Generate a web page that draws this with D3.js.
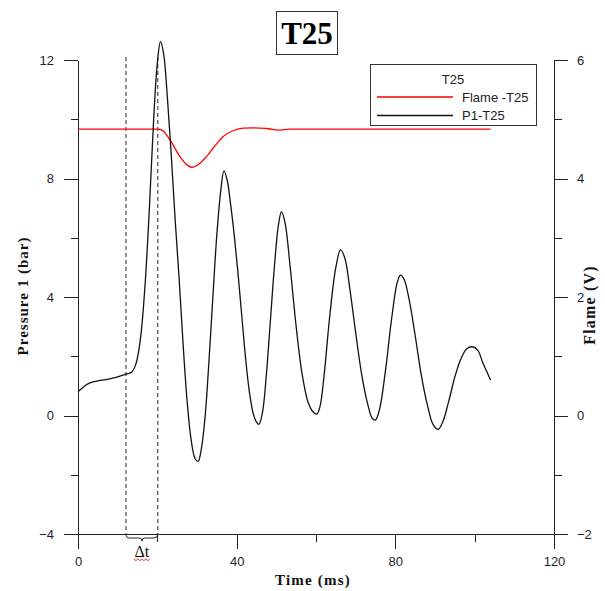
<!DOCTYPE html>
<html>
<head>
<meta charset="utf-8">
<script src="https://cdn.jsdelivr.net/npm/d3@7"></script>
<style>
  html, body { margin: 0; padding: 0; background: #fff; }
  svg { display: block; }
</style>
</head>
<body>
<svg id="chart" width="605" height="591"></svg>
<script>
// Pressure trace P1-T25 (bar) against time (ms)
const pTime = [0, 1, 2, 3, 5, 7, 9, 11, 12.5, 13.5, 14.5, 15.2, 16, 17, 18, 19, 20, 20.8, 21.6, 22.5,
  23.5, 24.5, 25.5, 26.5, 27.5, 28.5, 29.5, 30.3, 31, 32, 33, 34, 35, 36, 36.8, 37.6, 38.5, 39.3, 40.2, 41.2, 42.2,
  43.2, 44.2, 45, 45.6, 46.5, 47.5, 48.5, 49.5, 50.5, 51.3, 52.2, 53.5, 55, 56.5, 58, 59.3, 60.2, 61, 62, 63.5,
  65, 66.2, 67.3, 68.5, 70, 71.5, 73, 74.2, 75, 76, 77.5, 79, 80.5, 81.3, 82.2, 83.5, 85, 86.5, 88, 89.5,
  90.8, 92, 93.5, 95, 96.5, 98, 99.4, 100.8, 102, 103, 104];
const pressure = [0.80, 0.92, 1.03, 1.10, 1.17, 1.21, 1.27, 1.35, 1.41, 1.46, 1.70, 2.10, 2.90, 4.60, 7.00, 9.80, 11.9, 12.62, 12.2, 10.8,
  8.8, 6.6, 4.6, 2.4, 0.5, -0.8, -1.45, -1.55, -1.2, -0.1, 1.8, 4.0, 6.1, 7.6, 8.26, 7.95, 7.1, 6.2, 5.0, 3.5, 2.0,
  0.8, 0.05, -0.22, -0.3, 0.1, 1.4, 3.2, 5.0, 6.4, 6.88, 6.5, 5.0, 3.0, 1.4, 0.45, 0.12, 0.05, 0.3, 1.3, 3.4,
  5.0, 5.59, 5.3, 4.3, 2.8, 1.4, 0.4, -0.1, -0.15, 0.2, 1.5, 3.2, 4.5, 4.74, 4.6, 3.9, 2.7, 1.4, 0.4, -0.3,
  -0.47, -0.2, 0.5, 1.3, 1.9, 2.25, 2.32, 2.2, 1.8, 1.5, 1.2];

// Flame signal Flame -T25 (V) against time (ms)
const fTime = [0, 10, 20.2, 21.5, 23.2, 25.7, 27.5, 28.7, 30, 32.4, 34.5, 36.6, 39.2, 41.7, 44, 45.9, 48, 50.5, 52, 53.4, 60, 80, 104];
const flame = [4.835, 4.835, 4.835, 4.80, 4.65, 4.37, 4.23, 4.19, 4.22, 4.37, 4.55, 4.71, 4.81, 4.85, 4.855, 4.85, 4.84, 4.815, 4.825, 4.835, 4.835, 4.835, 4.835];

// Markers bounding the delay Δt (ms)
const dtBounds = [12.1, 20.1];

// Axis ticks
const xMajor = [0, 40, 80, 120];
const xMinor = [20, 60, 100];
const pMajor = [-4, 0, 4, 8, 12];
const pMinor = [-2, 2, 6, 10];
const fMajor = [-2, 0, 2, 4, 6];
const fMinor = [-1, 1, 3, 5];

const chartTitle = "T25";
const legendTitle = "T25";
const seriesNames = ["Flame -T25", "P1-T25"];
const seriesColors = ["#ff0000", "#111111"];

const svg = d3.select("#chart");
const sans = "'Liberation Sans', Arial, sans-serif";
const serif = "'Liberation Serif', 'Times New Roman', serif";

const x = d3.scaleLinear().domain([0, 120]).range([78, 554]);
const yP = d3.scaleLinear().domain([-4, 12]).range([534, 60]);
const yF = d3.scaleLinear().domain([-2, 6]).range([534, 60]);

function styleAxis(g) {
  g.selectAll("path, line").attr("stroke", "#222").attr("stroke-width", 1).attr("shape-rendering", "crispEdges");
  g.selectAll("text").attr("font-family", sans).attr("font-size", 13).attr("fill", "#1e1e30");
}

// Minor ticks first
svg.append("g").attr("transform", `translate(0,${yP(-4)})`)
  .call(d3.axisBottom(x).tickValues(xMinor).tickSize(8).tickSizeOuter(0).tickFormat(""))
  .call(styleAxis).call(g => g.select(".domain").remove());
svg.append("g").attr("transform", `translate(${x(0)},0)`)
  .call(d3.axisLeft(yP).tickValues(pMinor).tickSize(7).tickSizeOuter(0).tickFormat(""))
  .call(styleAxis).call(g => g.select(".domain").remove());
svg.append("g").attr("transform", `translate(${x(120)},0)`)
  .call(d3.axisRight(yF).tickValues(fMinor).tickSize(8).tickSizeOuter(0).tickFormat(""))
  .call(styleAxis).call(g => g.select(".domain").remove());

// Major axes
svg.append("g").attr("transform", `translate(0,${yP(-4)})`)
  .call(d3.axisBottom(x).tickValues(xMajor).tickSize(15).tickSizeOuter(0).tickPadding(8).tickFormat(d3.format("d")))
  .call(styleAxis);
svg.append("g").attr("transform", `translate(${x(0)},0)`)
  .call(d3.axisLeft(yP).tickValues(pMajor).tickSize(14).tickSizeOuter(0).tickPadding(10).tickFormat(d3.format("d")))
  .call(styleAxis);
svg.append("g").attr("transform", `translate(${x(120)},0)`)
  .call(d3.axisRight(yF).tickValues(fMajor).tickSize(14).tickSizeOuter(0).tickPadding(9).tickFormat(d3.format("d")))
  .call(styleAxis);

// Dashed markers for Δt
svg.append("g").selectAll("line").data(dtBounds).join("line")
  .attr("x1", d => x(d)).attr("x2", d => x(d))
  .attr("y1", 57).attr("y2", yP(-4))
  .attr("stroke", "#666").attr("stroke-width", 1.4).attr("stroke-dasharray", "4,3");

// Curly brace under the interval
const bx0 = x(dtBounds[0]), bx1 = x(dtBounds[1]), bm = (bx0 + bx1) / 2, by = yP(-4);
svg.append("path")
  .attr("d", `M${bx0},${by} Q${bx0},${by + 4} ${bx0 + 4},${by + 4} L${bm - 3},${by + 4} Q${bm},${by + 4} ${bm},${by + 7} Q${bm},${by + 4} ${bm + 3},${by + 4} L${bx1 - 4},${by + 4} Q${bx1},${by + 4} ${bx1},${by}`)
  .attr("fill", "none").attr("stroke", "#222").attr("stroke-width", 1);
svg.append("text").attr("x", bm).attr("y", 557)
  .attr("text-anchor", "middle").attr("font-family", serif).attr("font-size", 16).attr("fill", "#111")
  .text("Δt");
// red wavy underline beneath Δt
const wave = d3.range(0, 9).map(i => [bm - 8 + i * 2, 559.5 + (i % 2 ? 1.2 : -0.6)]);
svg.append("path").attr("d", d3.line()(wave)).attr("fill", "none").attr("stroke", "#e02020").attr("stroke-width", 0.9);

// Series lines
const lineP = d3.line().x((d, i) => x(pTime[i])).y(d => yP(d)).curve(d3.curveCatmullRom.alpha(0.5));
const lineF = d3.line().x((d, i) => x(fTime[i])).y(d => yF(d)).curve(d3.curveMonotoneX);

svg.append("path").datum(flame).attr("d", lineF)
  .attr("fill", "none").attr("stroke", seriesColors[0]).attr("stroke-width", 1.3);
svg.append("path").datum(pressure).attr("d", lineP)
  .attr("fill", "none").attr("stroke", seriesColors[1]).attr("stroke-width", 1.3);

// Title box
const tg = svg.append("g");
tg.append("rect").attr("x", 276.5).attr("y", 11.5).attr("width", 61).attr("height", 43)
  .attr("fill", "#fff").attr("stroke", "#333").attr("stroke-width", 1);
tg.append("text").attr("x", 307).attr("y", 44).attr("text-anchor", "middle")
  .attr("font-family", serif).attr("font-weight", "bold").attr("font-size", 31).attr("fill", "#000")
  .text(chartTitle);

// Legend
const lg = svg.append("g");
lg.append("rect").attr("x", 370.5).attr("y", 64.5).attr("width", 166).attr("height", 61)
  .attr("fill", "#fff").attr("stroke", "#333").attr("stroke-width", 1);
lg.append("text").attr("x", 453).attr("y", 84).attr("text-anchor", "middle")
  .attr("font-family", sans).attr("font-size", 13).attr("fill", "#222").text(legendTitle);
seriesNames.forEach((name, i) => {
  const yy = 97 + i * 18.5;
  lg.append("line").attr("x1", 377).attr("x2", 453).attr("y1", yy).attr("y2", yy)
    .attr("stroke", seriesColors[i]).attr("stroke-width", 1.3);
  lg.append("text").attr("x", 462).attr("y", yy + 4.5)
    .attr("font-family", sans).attr("font-size", 13).attr("fill", "#222").text(name);
});

// Axis titles
svg.append("text").attr("x", 313).attr("y", 585).attr("text-anchor", "middle")
  .attr("font-family", serif).attr("font-weight", "bold").attr("font-size", 15).attr("letter-spacing", 1.2)
  .attr("fill", "#111").text("Time (ms)");
svg.append("text").attr("transform", "translate(28,296) rotate(-90)").attr("text-anchor", "middle")
  .attr("font-family", serif).attr("font-weight", "bold").attr("font-size", 15).attr("letter-spacing", 1)
  .attr("fill", "#111").text("Pressure 1 (bar)");
svg.append("text").attr("transform", "translate(595,305) rotate(-90)").attr("text-anchor", "middle")
  .attr("font-family", serif).attr("font-weight", "bold").attr("font-size", 16).attr("letter-spacing", 1.2)
  .attr("fill", "#111").text("Flame (V)");
</script>
</body>
</html>
